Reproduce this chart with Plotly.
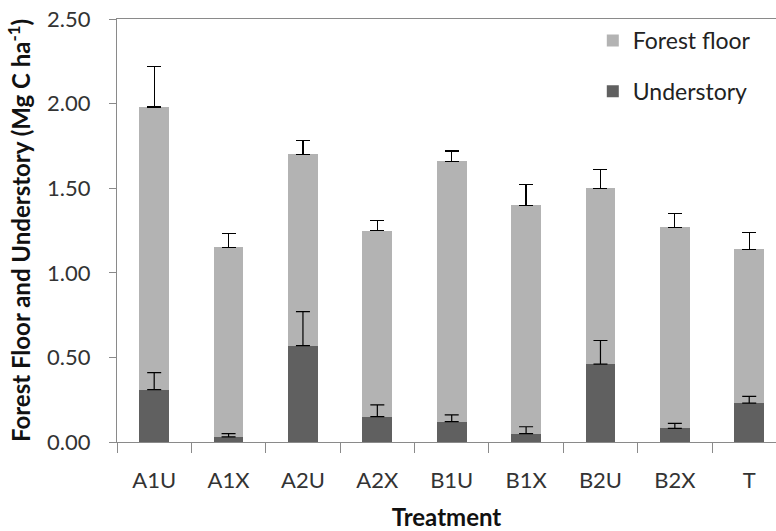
import plotly.graph_objects as go

treatments = ["A1U", "A1X", "A2U", "A2X", "B1U", "B1X", "B2U", "B2X", "T"]
understory = [0.31, 0.03, 0.57, 0.15, 0.12, 0.05, 0.46, 0.08, 0.23]
understory_err = [0.10, 0.02, 0.20, 0.07, 0.04, 0.04, 0.14, 0.03, 0.04]
forest_floor = [1.67, 1.12, 1.13, 1.10, 1.54, 1.35, 1.04, 1.19, 0.91]
forest_floor_err = [0.24, 0.08, 0.08, 0.06, 0.06, 0.12, 0.11, 0.08, 0.10]

FONT = "Lato"
AXIS_GREY = "#8a8a8a"


def upper_err(values):
    return dict(type="data", array=values, symmetric=False,
                arrayminus=[0] * len(values),
                color="black", thickness=1.2, width=7)


fig = go.Figure()
fig.add_trace(go.Bar(
    x=treatments, y=understory, name="Understory", legendgroup="u", legendrank=2,
    marker=dict(color="#606060", line=dict(width=0)),
))
fig.add_trace(go.Bar(
    x=treatments, y=forest_floor, name="Forest floor", legendgroup="f", legendrank=1,
    marker=dict(color="#b3b3b3", line=dict(width=0)),
    error_y=upper_err(forest_floor_err),
))
# understory error bars drawn above the stacked forest-floor segment
fig.add_trace(go.Scatter(
    x=treatments, y=understory, mode="markers", showlegend=False,
    marker=dict(opacity=0, size=1), hoverinfo="skip",
    error_y=upper_err(understory_err),
))

fig.update_layout(
    width=776, height=531,
    margin=dict(l=117, r=0, t=19, b=89),
    barmode="stack", bargap=0.6,
    plot_bgcolor="white", paper_bgcolor="white",
    font=dict(family=FONT, size=22, color="#333333"),
    showlegend=True,
    legend=dict(x=0.722, y=1.0, xanchor="left", yanchor="top",
                traceorder="grouped", tracegroupgap=18,
                font=dict(family=FONT, size=23, color="#222222"),
                bgcolor="rgba(0,0,0,0)", itemwidth=30),
    xaxis=dict(
        range=[-0.5, 8.36], showline=True, linecolor=AXIS_GREY, linewidth=1.3,
        mirror=True, ticks="outside", tickson="boundaries", ticklen=10,
        tickcolor=AXIS_GREY, ticklabelstandoff=18,
        tickfont=dict(family=FONT, size=22, color="#333333"),
        title=dict(text="<b>Treatment</b>", font=dict(family=FONT, size=24, color="#111111"),
                   standoff=19),
        showgrid=False, zeroline=False,
    ),
    yaxis=dict(
        range=[0, 2.5], tickvals=[0, 0.5, 1.0, 1.5, 2.0, 2.5], tickformat=".2f",
        showline=True, linecolor=AXIS_GREY, linewidth=1.3,
        ticks="outside", ticklen=7, tickcolor=AXIS_GREY, ticklabelstandoff=14,
        tickfont=dict(family=FONT, size=22, color="#333333"),
        title=dict(text="<b>Forest Floor and Understory (Mg C ha<sup>-1</sup>)</b>",
                   font=dict(family=FONT, size=24, color="#111111"), standoff=9),
        showgrid=False, zeroline=False,
    ),
)

fig.write_html("out.html")
